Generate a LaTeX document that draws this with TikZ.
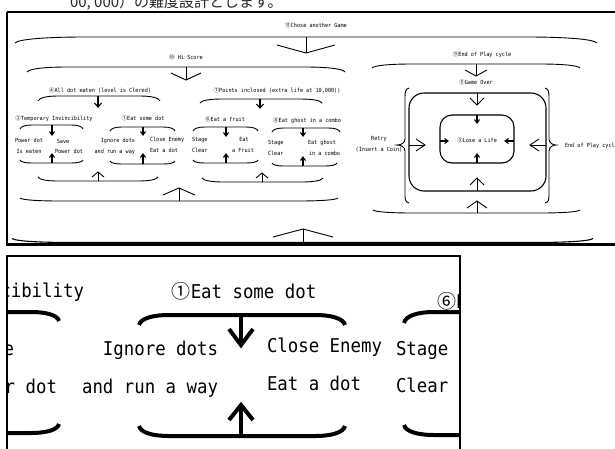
\documentclass[tikz,border=0pt]{standalone}
\usepackage{fontspec}
\newfontfamily\gothic[FakeStretch=0.914]{DejaVu Sans Mono}
\newfontfamily\cjk{Noto Sans CJK JP}
\newcommand\cn[1]{{\cjk #1}}
% brace: x1, x2, y (flat), signed drop of the ends, corner length, style
\newcommand\hbrace[6]{%
  \draw[#6] (#1,{#3+(#4)}) .. controls ({#1+0.05*(#5)},{#3+0.35*(#4)}) and ({#1+0.45*(#5)},#3) .. ({#1+(#5)},#3)
    -- ({#2-(#5)},#3) .. controls ({#2-0.45*(#5)},#3) and ({#2-0.05*(#5)},{#3+0.35*(#4)}) .. (#2,{#3+(#4)});}
% vertical arrow: x, y start, y tip, half width of head, signed head length, style
\newcommand\varr[6]{%
  \draw[#6] (#1,#2) -- (#1,#3);
  \draw[#6] ({#1-(#4)},{#3-(#5)}) -- (#1,#3) -- ({#1+(#4)},{#3-(#5)});}
% horizontal arrow: y, x start, x tip, half width, signed head length, style
\newcommand\harr[6]{%
  \draw[#6] (#2,#1) -- (#3,#1);
  \draw[#6] ({#3-(#5)},{#1-(#4)}) -- (#3,#1) -- ({#3-(#5)},{#1+(#4)});}
\begin{document}
\begin{tikzpicture}[x=1pt,y=-1pt,
  every node/.style={inner sep=0pt,outer sep=0pt},
  small/.style={font=\gothic\fontsize{5.65}{7}\selectfont,text height=4.2pt,text depth=1.1pt,align=center},
  large/.style={font=\gothic\fontsize{19}{23}\selectfont,text height=14pt,text depth=3.6pt},
  ln/.style={line width=0.9pt,black},
  lnb/.style={line width=1.1pt,black},
  thk/.style={line width=4pt,black}]
\useasboundingbox (0,0) rectangle (615,448);
\clip (0,0) rectangle (615,448);
% ---- cut-off Japanese line at the top
\node[anchor=base west,font=\cjk\fontsize{15}{15}\selectfont,text=black!85] (jp) at (70,7) {00, 000）の難度設計とします。};
% ---- upper picture frame
\draw[line width=1.5pt] (7,12) -- (640,12);
\draw[line width=1.5pt] (7,12) -- (7,244.5);
\draw[line width=2.5pt] (6.3,244.5) -- (640,244.5);
% labels
\node[small] (t11) at (316,26) {\cn{⑪}Chose another Game};
\node[small] (t10) at (186,58) {\cn{⑩} Hi Score};
\node[small] (t4) at (100,91) {\cn{④}All dot eaten (level is Clered)};
\node[small] (t7) at (277,91) {\cn{⑦}Points inclosed (extra life at 10,000))};
\node[small] (t2) at (54,119) {\cn{②}Temporary Invincibility};
\node[small] (t1) at (143,119) {\cn{①}Eat some dot};
\node[small] (t6) at (225,120) {\cn{⑥}Eat a fruit};
\node[small] (t8) at (307,121) {\cn{⑧}Eat ghost in a combo};
\node[small] (t9) at (482,55) {\cn{⑨}End of Play cycle};
\node[small] (t5) at (476,83) {\cn{⑤}Game Over};
\node[small] (t3) at (477,141) {\cn{③}Lose a Life};
% leaves
\node[small] (pd1) at (29,141) {Power dot};
\node[small] (ie) at (29,152) {Is eaten};
\node[small] (sv) at (63,142) {Save};
\node[small] (pd2) at (69,152) {Power dot};
\node[small,anchor=east] (ig) at (135,141) {Ignore dots};
\node[small,anchor=east] (rw) at (135,152) {and run a way};
\node[small,anchor=west] (ce) at (150,140) {Close Enemy};
\node[small,anchor=west] (ed) at (150,151) {Eat a dot};
\node[small,anchor=west] (sg1) at (192,140) {Stage};
\node[small,anchor=west] (cl1) at (192,151) {Clear};
\node[small] (ea) at (244,140) {Eat};
\node[small] (af) at (243,151) {a Fruit};
\node[small,anchor=west] (sg2) at (268,143) {Stage};
\node[small,anchor=west] (cl2) at (268,154) {Clear};
\node[small,anchor=west] (eg) at (308,143) {Eat ghost};
\node[small,anchor=west] (ic) at (309,154) {in a combo};
\node[small] (rt) at (379,139) {Retry};
\node[small] (ins) at (379,150) {(Insert a Coin)};
\node[small,anchor=west] (ep) at (565,146) {End of Play cycle};
% braces, top halves
\hbrace{15}{597}{37}{6}{70}{ln}
\hbrace{27}{345}{67}{5}{40}{ln}
\hbrace{38}{160}{96}{5}{20}{ln}
\hbrace{200}{322}{99}{4}{22}{ln}
\hbrace{20}{83}{125}{4}{12}{ln}
\hbrace{110}{175}{127}{4}{12}{ln}
\hbrace{193}{258}{127}{4}{12}{ln}
\hbrace{272}{340}{128}{4}{12}{ln}
% braces, bottom halves
\hbrace{20}{83}{163}{-3}{12}{ln}
\hbrace{110}{175}{164}{-3}{12}{ln}
\hbrace{193}{258}{163}{-3}{12}{ln}
\hbrace{272}{337}{166}{-3}{12}{ln}
\hbrace{38}{158}{181}{-4}{20}{ln}
\hbrace{202}{323}{182}{-4}{22}{ln}
\hbrace{20}{338}{201}{-3}{40}{ln}
\hbrace{12}{593}{242.5}{-4}{60}{lnb}
% arrows
\varr{306}{37}{53}{29}{8}{ln}
\varr{186}{67}{80}{15}{7}{ln}
\varr{98}{96}{107}{3.5}{4}{lnb}
\varr{260}{99}{108}{3.5}{4}{lnb}
\varr{52}{125}{135}{2.5}{3.5}{lnb}
\varr{143}{127}{135}{2.5}{3.5}{lnb}
\varr{226}{127}{136}{2.5}{3.5}{lnb}
\varr{303}{128}{136}{2.5}{3.5}{lnb}
\varr{52}{163}{154}{2.5}{-3.5}{lnb}
\varr{143}{164}{154}{2.5}{-3.5}{lnb}
\varr{226}{163}{154}{2.5}{-3.5}{lnb}
\varr{303}{166}{157}{2.5}{-3.5}{lnb}
\varr{98}{181}{172}{6}{-5}{ln}
\varr{262}{182}{173}{6}{-5}{ln}
\varr{179}{201}{188}{16}{-7}{ln}
\varr{303}{243}{229}{30}{-8}{ln}
% ---- right part: end of play cycle
\hbrace{372}{580}{64}{4}{40}{ln}
\varr{476}{64}{76}{11}{6}{ln}
\draw[ln] (409,88) .. controls (405.5,89) and (405,92) .. (405,97) -- (405,139)
  .. controls (405,143) and (401,145) .. (397,145) .. controls (401,145) and (405,147) .. (405,151)
  -- (405,195) .. controls (405,200) and (405.5,202) .. (409,203);
\draw[ln] (545,88) .. controls (548.5,89) and (549,92) .. (549,97) -- (549,139)
  .. controls (549,143) and (553,145) .. (556,145) .. controls (553,145) and (549,147) .. (549,151)
  -- (549,195) .. controls (549,200) and (548.5,202) .. (545,203);
\draw[lnb,rounded corners=15pt] (409,93) rectangle (546,191);
\draw[lnb,rounded corners=12pt] (440,115) rectangle (514,163);
\varr{477}{93}{105}{7}{7}{ln}
\varr{477}{115}{123}{2.5}{3.5}{lnb}
\varr{477}{163}{154}{2.5}{-3.5}{lnb}
\varr{477}{191}{178}{7}{-7}{ln}
\harr{141}{440}{448}{2.5}{3.5}{lnb}
\harr{141}{514}{505}{2.5}{-3.5}{lnb}
\harr{145}{409}{425}{6}{9}{ln}
\harr{145}{546}{530}{6}{-9}{ln}
\hbrace{373}{580}{213}{-3}{40}{ln}
\varr{477}{213}{201}{10}{-7}{ln}
% ---- lower picture: enlarged detail
\begin{scope}
\clip (7,256) rectangle (460,470);
\node[large,anchor=east] (z2) at (84,292) {\cn{②}Temporary Invincibility};
\node[large,anchor=east] (zsv) at (14,350) {Save};
\node[large,anchor=east] (zpd) at (57,388) {Power dot};
\node[large] (z1) at (244,293) {\cn{①}Eat some dot};
\node[large,anchor=east] (zig) at (218,350) {Ignore dots};
\node[large,anchor=east] (zrw) at (218,388) {and run a way};
\node[large,anchor=west] (zce) at (267,347) {Close Enemy};
\node[large,anchor=west] (zed) at (267,385) {Eat a dot};
\node[large,anchor=west] (zsg) at (396,350) {Stage};
\node[large,anchor=west] (zcl) at (396,387) {Clear};
\node[large,anchor=west] (z6) at (437,303) {\cn{⑥}Eat a fruit};
\hbrace{-100}{59}{312}{9}{28}{thk}
\hbrace{-100}{59}{433}{-9}{28}{thk}
\hbrace{139}{345}{315}{10}{30}{thk}
\hbrace{139}{345}{436}{-10}{30}{thk}
\hbrace{404}{700}{312}{11}{30}{thk}
\hbrace{404}{700}{435}{-10}{30}{thk}
\varr{241}{315}{345}{12}{16}{thk}
\varr{241}{436}{405}{12}{-15}{thk}
\end{scope}
\draw[line width=1.5pt] (7,470) -- (7,256) -- (460,256) -- (460,470);
\end{tikzpicture}
\end{document}
